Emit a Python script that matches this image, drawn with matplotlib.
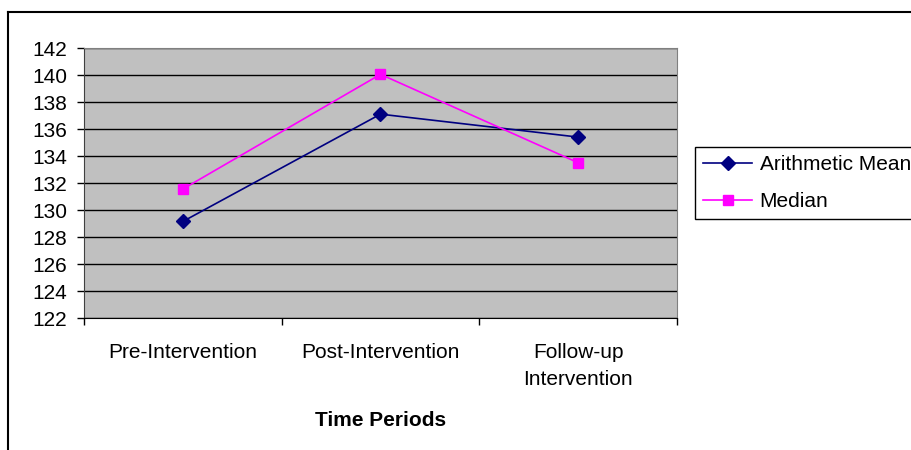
import matplotlib.pyplot as plt
from matplotlib.lines import Line2D

plt.rcParams['font.family'] = ['Liberation Sans', 'DejaVu Sans']

periods = ['Pre-Intervention', 'Post-Intervention', 'Follow-up\nIntervention']
arith_mean = [129.15, 137.1, 135.4]
median = [131.55, 140.05, 133.5]
y_ticks = list(range(122, 143, 2))

W, H = 912, 450
fig = plt.figure(figsize=(W / 100, H / 100), dpi=100)

# outer chart frame (runs off the right and bottom of the picture)
fig.add_artist(Line2D([8 / W, 8 / W], [0, 1 - 12 / H], color='black', lw=1.5))
fig.add_artist(Line2D([8 / W, 1], [1 - 12 / H, 1 - 12 / H], color='black', lw=1.5))

ax = fig.add_axes([84 / W, 1 - 318 / H, (677 - 84) / W, (318 - 48) / H])
ax.set_facecolor('#c0c0c0')

x = list(range(len(periods)))
ax.plot(x, arith_mean, color='#000080', lw=1.2, marker='D', ms=7.5,
        label='Arithmetic Mean', zorder=3)
ax.plot(x, median, color='#ff00ff', lw=1.2, marker='s', ms=7,
        label='Median', zorder=3)

ax.set_xlim(-0.5, len(periods) - 0.5)
ax.set_ylim(122, 142)
ax.set_yticks(y_ticks)
ax.set_xticks(x)
ax.set_xticklabels(periods, fontsize=15, linespacing=1.55)
ax.set_xticks([i - 0.5 for i in range(len(periods) + 1)], minor=True)
ax.tick_params(axis='x', which='major', length=0, pad=18)
ax.tick_params(axis='x', which='minor', length=5, width=1, direction='out')
ax.tick_params(axis='y', length=5, width=1, labelsize=15, pad=7)
ax.grid(axis='y', color='black', lw=1)
ax.set_axisbelow(True)

ax.spines['left'].set_color('#404040')
ax.spines['bottom'].set_color('black')
ax.spines['top'].set_color('#808080')
ax.spines['right'].set_color('#808080')

ax.set_xlabel('Time Periods', fontsize=15, fontweight='bold', labelpad=16)

leg = fig.legend(loc='upper left', bbox_to_anchor=(695 / W, 1 - 147 / H),
                 fontsize=15, frameon=True, fancybox=False, edgecolor='black',
                 framealpha=1, borderpad=0.4, handlelength=2.35,
                 handletextpad=0.35, labelspacing=0.85, borderaxespad=0)
leg.get_frame().set_linewidth(1)

fig.savefig('out.png', dpi=100)
